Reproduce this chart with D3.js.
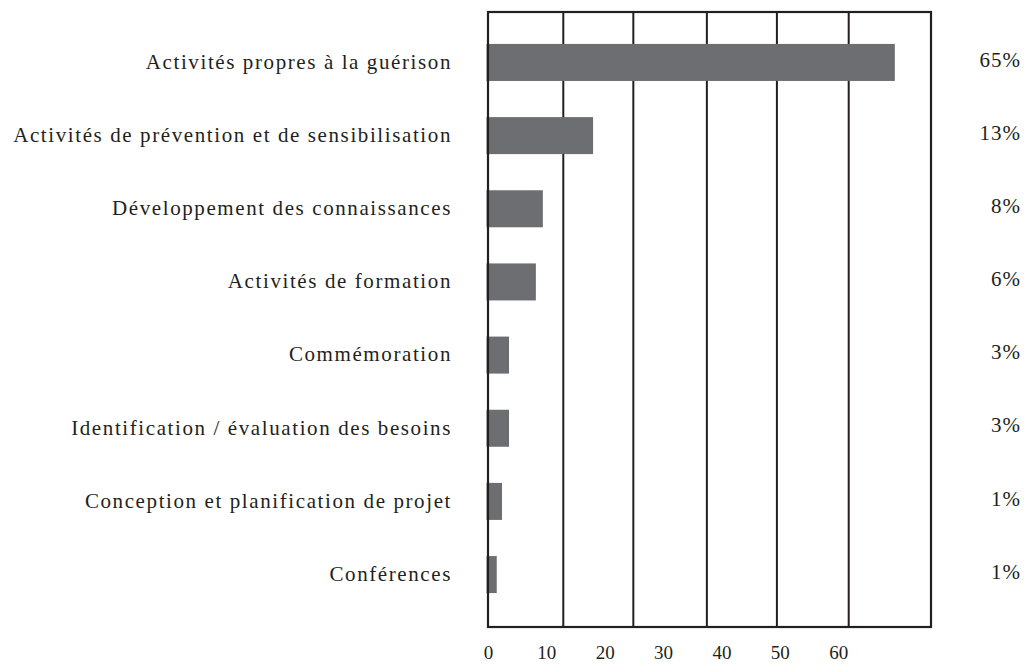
<!DOCTYPE html>
<html>
<head>
<meta charset="utf-8">
<script src="https://cdn.jsdelivr.net/npm/d3@7"></script>
<style>
  body { margin: 0; background: #fff; }
  text { font-family: "Liberation Serif", "DejaVu Serif", serif; fill: #231f20; }
</style>
</head>
<body>
<div id="chart"></div>
<script>
// categories, top to bottom
var categories = [
  "Activités propres à la guérison",
  "Activités de prévention et de sensibilisation",
  "Développement des connaissances",
  "Activités de formation",
  "Commémoration",
  "Identification / évaluation des besoins",
  "Conception et planification de projet",
  "Conférences"
];
// printed percentages (right column)
var percents = [65, 13, 8, 6, 3, 3, 1, 1];
// bar lengths as drawn, read against the bottom axis
var barValues = [69.7, 18.0, 9.4, 8.2, 3.6, 3.6, 2.4, 1.5];
// axis tick labels
var tickValues = [0, 10, 20, 30, 40, 50, 60];
// vertical rules as drawn, in axis units
var gridValues = [12.9, 24.9, 37.5, 49.5, 61.8];
var xMax = 75.9;

(function barChart(){
    var margin = {top: 12, right: 95, bottom: 38, left: 488},
        width = 1026 - margin.left - margin.right,
        height = 665 - margin.top - margin.bottom;

    var x = d3.scaleLinear().domain([0, xMax]).range([0, width]);
    var y = d3.scaleBand().domain(categories).range([0, height])
        .paddingInner(0.494).paddingOuter(0.45).align(0.485);

    var svg = d3.select("#chart").append("svg")
        .attr("width", 1026)
        .attr("height", 665)
      .append("g")
        .attr("transform", "translate(" + margin.left + "," + margin.top + ")");

    // vertical rules
    svg.selectAll(".grid")
        .data(gridValues)
      .enter().append("line")
        .attr("class", "grid")
        .attr("x1", x).attr("x2", x)
        .attr("y1", 0).attr("y2", height)
        .style("stroke", "#231f20")
        .style("stroke-width", 2);

    // bars
    svg.selectAll(".bar")
        .data(categories)
      .enter().append("rect")
        .attr("class", "bar")
        .attr("x", x(0) - 1.5)
        .attr("y", function(d) { return y(d); })
        .attr("width", function(d, i) { return x(barValues[i]) - x(0) + 1.5; })
        .attr("height", y.bandwidth())
        .style("fill", "#6d6e71");

    // frame
    svg.append("rect")
        .attr("x", 0).attr("y", 0)
        .attr("width", width).attr("height", height)
        .style("fill", "none")
        .style("stroke", "#231f20")
        .style("stroke-width", 2.2);

    // category labels
    svg.selectAll(".cat")
        .data(categories)
      .enter().append("text")
        .attr("class", "cat")
        .attr("x", -36)
        .attr("y", function(d) { return y(d) + y.bandwidth() / 2; })
        .attr("dy", ".3em")
        .style("text-anchor", "end")
        .style("font-size", "21px")
        .style("letter-spacing", "1.6px")
        .text(function(d) { return d; });

    // percentages on the right
    svg.selectAll(".pct")
        .data(categories)
      .enter().append("text")
        .attr("class", "pct")
        .attr("x", width + 90)
        .attr("y", function(d) { return y(d) + y.bandwidth() / 2; })
        .attr("dy", ".2em")
        .style("text-anchor", "end")
        .style("font-size", "21px")
        .style("letter-spacing", "1px")
        .text(function(d, i) { return percents[i] + "%"; });

    // bottom tick labels
    var xAxis = d3.axisBottom(x).tickValues(tickValues).tickSize(0).tickPadding(19);
    var gx = svg.append("g")
        .attr("transform", "translate(0," + height + ")")
        .call(xAxis);
    gx.select(".domain").remove();
    gx.selectAll("text")
        .style("font-size", "19px")
        .style("font-family", "'Liberation Serif', serif")
        .attr("fill", "#231f20");
}());
</script>
</body>
</html>
